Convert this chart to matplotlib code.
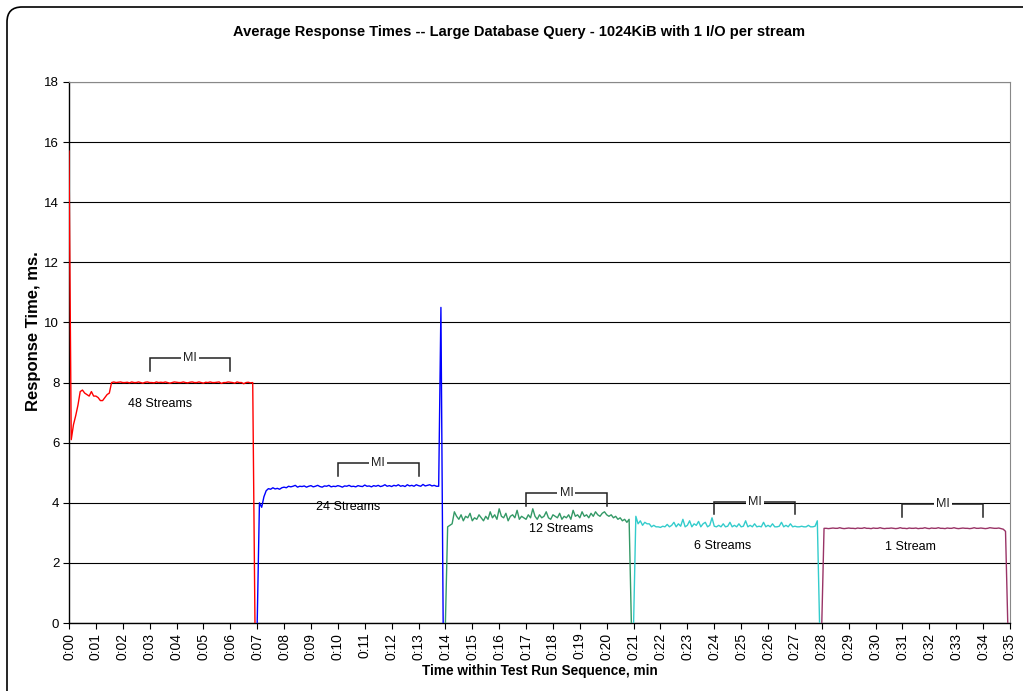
import numpy as np
import matplotlib
matplotlib.use('Agg')
import matplotlib.pyplot as plt
from matplotlib.patches import FancyBboxPatch

plt.rcParams['font.family'] = ['Liberation Sans', 'DejaVu Sans']

# ── data: one sample every 5 s, each run segment lasts 7 min ────────────────
SAMPLE_MIN = 5 / 60
SEG_START = [0, 7, 14, 21, 28]
SEG_LABELS = ['48 Streams', '24 Streams', '12 Streams', '6 Streams', '1 Stream']
SEG_COLORS = ['#FF0000', '#0000FF', '#339966', '#33CCCC', '#993366']

rt_48 = [15.7, 6.1, 6.6, 6.9, 7.25, 7.7, 7.75, 7.65, 7.6, 7.55, 7.7, 7.55, 7.55, 7.5, 7.4, 7.4, 7.5, 7.6, 7.65, 8.0,
         8.02, 8.0, 8.01, 8.02, 8.0, 8.0, 8.01, 7.99, 8.02, 8.0, 8.0, 8.02, 8.0, 7.98, 8.01, 8.02, 8.0, 8.0, 7.99, 8.02,
         8.0, 8.01, 8.0, 8.02, 8.0, 7.98, 8.0, 8.02, 8.01, 8.0, 8.0, 8.02, 8.0, 7.99, 8.01, 8.02, 8.0, 8.0, 8.02, 8.0,
         7.98, 8.01, 8.0, 8.02, 8.0, 8.0, 8.01, 8.02, 7.97, 8.0, 8.0, 8.02, 8.01, 8.0, 7.98, 8.02, 8.0, 8.0, 7.96, 8.0,
         8.01, 7.99, 8.0, 0.0]
rt_24 = [0.0, 4.0, 3.85, 4.2, 4.4, 4.47, 4.45, 4.5, 4.46, 4.48, 4.45, 4.5, 4.52, 4.5, 4.55, 4.53, 4.55, 4.58, 4.52, 4.55,
         4.54, 4.56, 4.52, 4.55, 4.57, 4.53, 4.55, 4.58, 4.54, 4.52, 4.56, 4.55, 4.58, 4.53, 4.55, 4.54, 4.57, 4.55, 4.52, 4.56,
         4.55, 4.58, 4.54, 4.55, 4.53, 4.57, 4.55, 4.54, 4.59, 4.55, 4.56, 4.53, 4.57, 4.55, 4.58, 4.54, 4.56, 4.6, 4.55, 4.57,
         4.54, 4.58, 4.56, 4.6, 4.55, 4.57, 4.54, 4.6, 4.56, 4.58, 4.55, 4.6, 4.57, 4.55, 4.61, 4.56, 4.58, 4.6, 4.56, 4.58,
         4.55, 4.55, 10.5, 0.0]
rt_12 = [0.0, 3.2, 3.25, 3.3, 3.7, 3.55, 3.45, 3.6, 3.4, 3.55, 3.5, 3.65, 3.4, 3.5, 3.45, 3.6, 3.5, 3.4, 3.55, 3.45,
         3.7, 3.5, 3.6, 3.45, 3.8, 3.55, 3.5, 3.65, 3.4, 3.55, 3.6, 3.5, 3.75, 3.45, 3.55, 3.5, 3.45, 3.6, 3.5, 3.8,
         3.55, 3.45, 3.6, 3.5, 3.55, 3.7, 3.5, 3.45, 3.6, 3.55, 3.5, 3.65, 3.45, 3.55, 3.5, 3.6, 3.45, 3.75, 3.55, 3.6,
         3.5, 3.7, 3.55, 3.6, 3.5, 3.65, 3.55, 3.7, 3.6, 3.55, 3.65, 3.7, 3.6, 3.55, 3.6, 3.5, 3.55, 3.45, 3.5, 3.4,
         3.45, 3.35, 3.45, 0.0]
rt_6 = [0.0, 3.55, 3.3, 3.4, 3.25, 3.35, 3.3, 3.3, 3.2, 3.25, 3.2, 3.2, 3.18, 3.22, 3.2, 3.28, 3.2, 3.25, 3.35, 3.2,
        3.3, 3.22, 3.45, 3.2, 3.25, 3.4, 3.2, 3.3, 3.25, 3.38, 3.2, 3.3, 3.35, 3.2, 3.25, 3.5, 3.22, 3.2, 3.25, 3.2,
        3.3, 3.2, 3.22, 3.35, 3.2, 3.25, 3.2, 3.3, 3.2, 3.22, 3.4, 3.2, 3.25, 3.2, 3.3, 3.2, 3.22, 3.2, 3.35, 3.2,
        3.25, 3.2, 3.3, 3.2, 3.2, 3.22, 3.35, 3.2, 3.25, 3.2, 3.3, 3.2, 3.22, 3.2, 3.2, 3.22, 3.2, 3.2, 3.25, 3.2,
        3.2, 3.22, 3.4, 0.0]
rt_1 = [0.0, 3.15, 3.15, 3.14, 3.15, 3.16, 3.15, 3.15, 3.17, 3.15, 3.14, 3.15, 3.16, 3.15, 3.15, 3.14, 3.16, 3.15, 3.15, 3.17,
        3.15, 3.15, 3.14, 3.16, 3.15, 3.15, 3.17, 3.15, 3.14, 3.15, 3.15, 3.16, 3.15, 3.14, 3.15, 3.17, 3.15, 3.15, 3.14, 3.16,
        3.15, 3.15, 3.16, 3.14, 3.15, 3.15, 3.17, 3.15, 3.14, 3.16, 3.15, 3.15, 3.17, 3.15, 3.15, 3.14, 3.16, 3.15, 3.15, 3.17,
        3.15, 3.14, 3.15, 3.16, 3.15, 3.15, 3.14, 3.15, 3.17, 3.15, 3.15, 3.16, 3.15, 3.14, 3.15, 3.17, 3.16, 3.15, 3.15, 3.16,
        3.14, 3.12, 3.05, 0.0]
SERIES = [rt_48, rt_24, rt_12, rt_6, rt_1]

# measurement interval markers (min) and where the labels sit
MI_START = [3, 10, 17, 24, 31]
MI_END = [6, 13, 20, 27, 34]
MI_TOP = [8.82, 5.32, 4.32, 4.03, 3.96]
MI_DROP = 0.42
LABEL_X = [3.4, 10.4, 18.3, 24.3, 31.3]
LABEL_Y = [7.3, 3.86, 3.13, 2.56, 2.53]

XTICKS = list(range(0, 36))
XTICK_LABELS = [f'0:{m:02d}' for m in XTICKS]

# ── plot ─────────────────────────────────────────────────────────────────────
fig = plt.figure(figsize=(10.23, 6.91), dpi=100, facecolor='white')
ax = fig.add_axes([69 / 1023, 1 - 623 / 691, (1010 - 69) / 1023, (623 - 82) / 691])

for start, vals, color in zip(SEG_START, SERIES, SEG_COLORS):
    t = start + np.arange(len(vals)) * SAMPLE_MIN
    ax.plot(t, vals, color=color, lw=1.0, zorder=3)

for x0, x1, top, lab, lx, ly in zip(MI_START, MI_END, MI_TOP, SEG_LABELS, LABEL_X, LABEL_Y):
    ax.plot([x0, x0, x1, x1], [top - MI_DROP, top, top, top - MI_DROP],
            color='#222222', lw=1.1, zorder=4, solid_joinstyle='miter')
    ax.text((x0 + x1) / 2, top, 'MI', ha='center', va='center', fontsize=9,
            color='#222222', zorder=5,
            bbox=dict(facecolor='white', edgecolor='none', pad=1.5))
    ax.text(lx, ly, lab, ha='center', va='center', fontsize=9, color='black', zorder=5)

ax.set_xlim(0, 35)
ax.set_ylim(0, 18)
ax.set_yticks(range(0, 19, 2))
ax.set_xticks(XTICKS)
ax.set_xticklabels(XTICK_LABELS, rotation=90, fontsize=10)
ax.tick_params(axis='y', labelsize=9.5, length=4, width=0.8, direction='out', pad=3)
ax.tick_params(axis='x', length=4, width=0.8, direction='out', pad=3)
ax.grid(True, axis='y', color='black', lw=0.8, zorder=1)
ax.set_axisbelow(True)
for side in ['top', 'right']:
    ax.spines[side].set_color('#888888')
    ax.spines[side].set_linewidth(0.8)
for side in ['left', 'bottom']:
    ax.spines[side].set_color('black')
    ax.spines[side].set_linewidth(1.0)

ax.set_xlabel('Time within Test Run Sequence, min', fontsize=9.8, fontweight='bold')
ax.xaxis.set_label_coords(0.5, -(664 - 623) / 541)
ax.set_ylabel('Response Time, ms.', fontsize=12, fontweight='bold')
ax.yaxis.set_label_coords(-(69 - 41) / 941, (623 - 331) / 541)
fig.text(519 / 1023, 1 - 32 / 691,
         'Average Response Times -- Large Database Query - 1024KiB with 1 I/O per stream',
         ha='center', va='center', fontsize=10.5, fontweight='bold')

# rounded chart-area frame (cropped on right and bottom like the original)
frame = FancyBboxPatch((0.07, -0.5), 11.0, 6.84 + 0.5,
                       boxstyle='round,pad=0,rounding_size=0.15',
                       transform=fig.dpi_scale_trans, facecolor='none',
                       edgecolor='black', lw=1.2, zorder=10)
fig.patches.append(frame)

fig.savefig('out.png', dpi=100, facecolor='white')
